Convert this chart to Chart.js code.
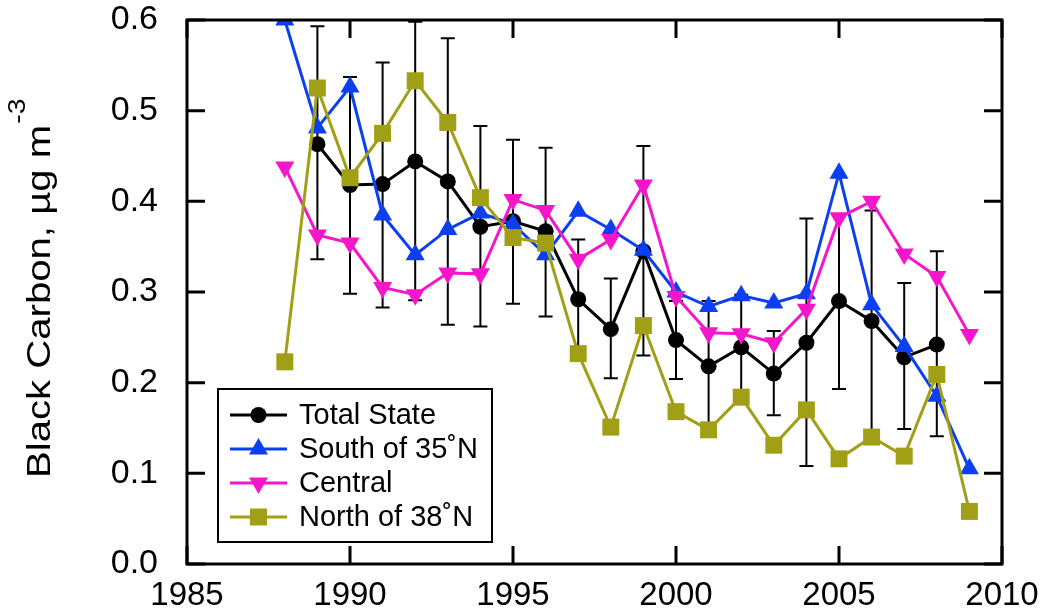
<!DOCTYPE html>
<html lang="en">
<head>
  <meta charset="UTF-8" />
  <title>Black Carbon</title>
  <script src="https://cdn.jsdelivr.net/npm/chart.js@4.4.1/dist/chart.umd.min.js"></script>
  <style>
    body { margin: 0; background: #fff; }
    #wrap { width: 1043px; height: 615px; }
  </style>
</head>
<body>
  <div id="wrap"><canvas id="bcChart" width="1043" height="615"></canvas></div>

<script>
  // values, one per year (null = no value)
  const years = [1988, 1989, 1990, 1991, 1992, 1993, 1994, 1995, 1996, 1997, 1998,
                 1999, 2000, 2001, 2002, 2003, 2004, 2005, 2006, 2007, 2008, 2009];
  const totalState = [null, 0.463, 0.418, 0.419, 0.444, 0.422, 0.372, 0.378, 0.367, 0.292, 0.259,
                      0.345, 0.247, 0.218, 0.239, 0.210, 0.244, 0.290, 0.268, 0.228, 0.242, null];
  const totalHigh  = [null, 0.593, 0.537, 0.553, 0.598, 0.580, 0.483, 0.468, 0.459, 0.358, 0.315,
                      0.461, 0.290, 0.290, 0.297, 0.257, 0.381, 0.385, 0.390, 0.310, 0.345, null];
  const totalLow   = [null, 0.336, 0.298, 0.283, 0.291, 0.264, 0.262, 0.287, 0.273, 0.226, 0.205,
                      0.230, 0.204, 0.147, 0.182, 0.164, 0.108, 0.193, 0.146, 0.149, 0.141, null];
  const south35    = [0.600, 0.481, 0.526, 0.385, 0.341, 0.369, 0.387, 0.375, 0.341, 0.389, 0.369,
                      0.346, 0.300, 0.284, 0.296, 0.288, 0.298, 0.431, 0.286, 0.240, 0.185, 0.105];
  const central    = [0.438, 0.363, 0.354, 0.305, 0.297, 0.321, 0.320, 0.402, 0.390, 0.336, 0.358,
                      0.418, 0.295, 0.255, 0.254, 0.244, 0.281, 0.382, 0.400, 0.342, 0.317, 0.253];
  const north38    = [0.223, 0.525, 0.426, 0.475, 0.533, 0.487, 0.404, 0.360, 0.354, 0.232, 0.151,
                      0.263, 0.168, 0.148, 0.184, 0.131, 0.170, 0.116, 0.140, 0.119, 0.209, 0.058];

  const xTicks = [1985, 1990, 1995, 2000, 2005, 2010];
  const yTicks = [0.0, 0.1, 0.2, 0.3, 0.4, 0.5, 0.6];

  const FONT = '"Liberation Sans", Arial, Helvetica, sans-serif';
  const BLACK = '#000000', BLUE = '#0D3FF2', MAGENTA = '#F416CA', OLIVE = '#A19F15';

  function toPoints(vals) {
    return years.map((yr, i) => ({ x: yr, y: vals[i] }));
  }

  function series(label, vals, color, style, radius, rotation, order) {
    return {
      label: label,
      data: toPoints(vals),
      borderColor: color,
      backgroundColor: color,
      borderWidth: 3,
      pointStyle: style,
      pointRadius: radius,
      pointRotation: rotation,
      pointBorderWidth: 0,
      pointBackgroundColor: color,
      spanGaps: false,
      order: order
    };
  }

  const datasets = [
    series('Total State', totalState, BLACK, 'circle', 8, 0, 4),
    series('South of 35\u02DAN', south35, BLUE, 'triangle', 11, 0, 3),
    series('Central', central, MAGENTA, 'triangle', 11, 180, 2),
    series('North of 38\u02DAN', north38, OLIVE, 'rect', 12, 0, 1)
  ];

  function drawMarker(ctx, style, rot, r, x, y, color) {
    ctx.fillStyle = color;
    ctx.beginPath();
    if (style === 'circle') {
      ctx.arc(x, y, r, 0, Math.PI * 2);
    } else if (style === 'rect') {
      const s = r * Math.SQRT1_2;
      ctx.rect(x - s, y - s, 2 * s, 2 * s);
    } else {
      let a = rot * Math.PI / 180;
      for (let k = 0; k < 3; k++) {
        const px = x + Math.sin(a) * r, py = y - Math.cos(a) * r;
        if (k === 0) ctx.moveTo(px, py); else ctx.lineTo(px, py);
        a += 2 * Math.PI / 3;
      }
      ctx.closePath();
    }
    ctx.fill();
  }

  const overlay = {
    id: 'overlay',
    beforeDatasetsDraw(chart) {
      // error bars of the total state mean
      const ctx = chart.ctx, xs = chart.scales.x, ys = chart.scales.y;
      ctx.save();
      ctx.strokeStyle = BLACK;
      ctx.lineWidth = 2;
      years.forEach((yr, i) => {
        if (totalHigh[i] == null) return;
        const px = xs.getPixelForValue(yr);
        const top = ys.getPixelForValue(totalHigh[i]);
        const bot = ys.getPixelForValue(totalLow[i]);
        ctx.beginPath();
        ctx.moveTo(px, top); ctx.lineTo(px, bot);
        ctx.moveTo(px - 7, top); ctx.lineTo(px + 7, top);
        ctx.moveTo(px - 7, bot); ctx.lineTo(px + 7, bot);
        ctx.stroke();
      });
      ctx.restore();
    },
    afterDatasetsDraw(chart) {
      const ctx = chart.ctx, a = chart.chartArea, xs = chart.scales.x, ys = chart.scales.y;
      ctx.save();
      // frame and inward ticks on all four sides
      ctx.strokeStyle = BLACK;
      ctx.lineWidth = 3;
      ctx.strokeRect(a.left, a.top, a.right - a.left, a.bottom - a.top);
      ctx.beginPath();
      xTicks.forEach(v => {
        const px = xs.getPixelForValue(v);
        ctx.moveTo(px, a.bottom); ctx.lineTo(px, a.bottom - 18);
        ctx.moveTo(px, a.top); ctx.lineTo(px, a.top + 18);
      });
      yTicks.forEach(v => {
        const py = ys.getPixelForValue(v);
        ctx.moveTo(a.left, py); ctx.lineTo(a.left + 18, py);
        ctx.moveTo(a.right, py); ctx.lineTo(a.right - 18, py);
      });
      ctx.stroke();

      // legend box
      const bx = 218, by = 389, bw = 274, bh = 153;
      ctx.fillStyle = '#ffffff';
      ctx.fillRect(bx, by, bw, bh);
      ctx.lineWidth = 2;
      ctx.strokeRect(bx, by, bw, bh);
      ctx.font = '29px ' + FONT;
      ctx.textBaseline = 'middle';
      ctx.textAlign = 'left';
      const rowY = [415, 449, 483, 517];
      datasets.forEach((d, i) => {
        const y = rowY[i];
        ctx.strokeStyle = d.borderColor;
        ctx.lineWidth = 3;
        ctx.beginPath();
        ctx.moveTo(230, y); ctx.lineTo(287, y);
        ctx.stroke();
        drawMarker(ctx, d.pointStyle, d.pointRotation, d.pointRadius, 258.5, y, d.borderColor);
        ctx.fillStyle = BLACK;
        ctx.fillText(d.label, 299, y + 1);
      });
      ctx.restore();
    },
    afterDraw(chart) {
      // y axis title with superscript, stretched along its length like the source
      const ctx = chart.ctx;
      ctx.save();
      ctx.translate(50, 478);
      ctx.rotate(-Math.PI / 2);
      ctx.scale(1.18, 1);
      ctx.fillStyle = BLACK;
      ctx.textBaseline = 'alphabetic';
      ctx.textAlign = 'left';
      ctx.font = '34px ' + FONT;
      const main = 'Black Carbon, \u00B5g m';
      ctx.fillText(main, 0, 0);
      const w = ctx.measureText(main).width;
      ctx.font = '24px ' + FONT;
      ctx.fillText('-3', w + 1, -25);
      ctx.restore();
    }
  };

  new Chart(document.getElementById('bcChart'), {
    type: 'line',
    data: { datasets: datasets },
    options: {
      responsive: false,
      animation: false,
      devicePixelRatio: 1,
      layout: { padding: { left: 0, right: 41, top: 20, bottom: 0 } },
      plugins: { legend: { display: false }, tooltip: { enabled: false } },
      scales: {
        x: {
          type: 'linear',
          min: 1985,
          max: 2010,
          afterFit: s => { s.height = 51; s.paddingLeft = 0; s.paddingRight = 0; },
          afterBuildTicks: s => { s.ticks = xTicks.map(v => ({ value: v })); },
          grid: { display: false, drawTicks: false },
          border: { display: false },
          ticks: {
            color: BLACK,
            padding: 12,
            maxRotation: 0,
            font: { family: FONT, size: 33 },
            callback: v => String(v)
          }
        },
        y: {
          type: 'linear',
          min: 0,
          max: 0.6,
          afterFit: s => { s.width = 187; s.paddingTop = 0; s.paddingBottom = 0; },
          afterBuildTicks: s => { s.ticks = yTicks.map(v => ({ value: v })); },
          grid: { display: false, drawTicks: false },
          border: { display: false },
          ticks: {
            color: BLACK,
            padding: 29,
            font: { family: FONT, size: 34 },
            callback: v => v.toFixed(1)
          }
        }
      }
    },
    plugins: [overlay]
  });
</script>
</body>
</html>
